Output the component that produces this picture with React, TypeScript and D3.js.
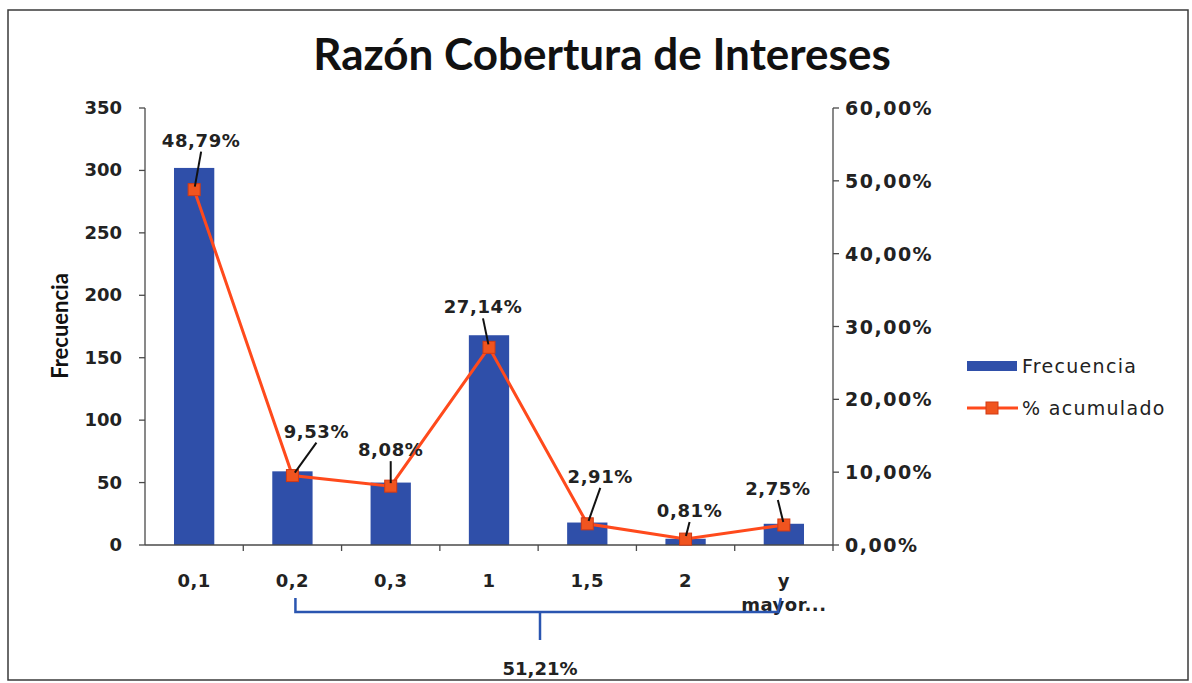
import { useMemo } from "react";
import * as d3 from "d3";

// chart data
const categories = ["0,1", "0,2", "0,3", "1", "1,5", "2", "y mayor..."];
const frecuencia = [302, 59, 50, 168, 18, 5, 17];
const acumulado = [48.79, 9.53, 8.08, 27.14, 2.91, 0.81, 2.75];
const leftTicks = [0, 50, 100, 150, 200, 250, 300, 350];
const rightTicks = [0, 10, 20, 30, 40, 50, 60];
const braceLabel = "51,21%";

// label offsets from the point (label centre)
const labelDx = [7, 24, 0, -6, 13, 4, -6];
const labelDy = [-49, -44, -36, -40, -47, -28, -36];

const W = 1192;
const H = 683;
const left = 145;
const right = 833;
const top = 108;
const bottom = 545;

const fmtPct = (v: number) => v.toFixed(2).replace(".", ",") + "%";

export default function App() {
  const x = useMemo(
    () => d3.scaleBand<string>().domain(categories).range([left, right]).paddingInner(0).paddingOuter(0),
    []
  );
  const yL = useMemo(() => d3.scaleLinear().domain([0, 350]).range([bottom, top]), []);
  const yR = useMemo(() => d3.scaleLinear().domain([0, 60]).range([bottom, top]), []);

  const cx = (c: string) => (x(c) as number) + x.bandwidth() / 2;
  const barW = x.bandwidth() * 0.41;

  const line = d3
    .line<number>()
    .x((_, i) => cx(categories[i]))
    .y((d) => yR(d));

  const tickFont = "'DejaVu Sans', Verdana, sans-serif";
  const axisColor = "#4a4a4a";
  const barColor = "#2f4fa9";
  const lineColor = "#ff4a1c";

  return (
    <svg width={W} height={H} style={{ position: "absolute", left: 0, top: 0, background: "#fff" }}>
      <rect x={8} y={10} width={1180} height={670} fill="#fff" stroke="#3a3a3a" strokeWidth={1.5} />

      <text x={602} y={70} textAnchor="middle" fontFamily="Lato, 'Open Sans', sans-serif" fontWeight={700} fontSize={44} fill="#111">
        Razón Cobertura de Intereses
      </text>

      {/* bars */}
      {frecuencia.map((v, i) => (
        <rect
          key={i}
          x={cx(categories[i]) - barW / 2}
          y={yL(v)}
          width={barW}
          height={bottom - yL(v)}
          fill={barColor}
        />
      ))}

      {/* left axis */}
      <line x1={left} x2={left} y1={top} y2={bottom} stroke={axisColor} strokeWidth={1.3} />
      {leftTicks.map((t) => (
        <g key={t}>
          <line x1={left - 6} x2={left} y1={yL(t)} y2={yL(t)} stroke={axisColor} strokeWidth={1.3} />
          <text x={122} y={yL(t) + 6} textAnchor="end" fontFamily={tickFont} fontWeight={700} fontSize={18} fill="#222">
            {t}
          </text>
        </g>
      ))}
      <text
        transform={`translate(68,${326}) rotate(-90)`}
        textAnchor="middle"
        fontFamily="Lato, 'Open Sans', sans-serif"
        fontWeight={700}
        fontSize={22}
        fill="#111"
      >
        Frecuencia
      </text>

      {/* right axis */}
      <line x1={right} x2={right} y1={top} y2={bottom} stroke={axisColor} strokeWidth={1.3} />
      {rightTicks.map((t) => (
        <g key={t}>
          <line x1={right} x2={right + 6} y1={yR(t)} y2={yR(t)} stroke={axisColor} strokeWidth={1.3} />
          <text x={845} y={yR(t) + 7} textAnchor="start" fontFamily={tickFont} fontWeight={700} fontSize={19} letterSpacing={1.5} fill="#222">
            {t.toFixed(2).replace(".", ",") + "%"}
          </text>
        </g>
      ))}

      {/* x axis */}
      <line x1={left} x2={right} y1={bottom} y2={bottom} stroke={axisColor} strokeWidth={1.3} />
      {categories.map((c, i) => (
        <line
          key={"t" + i}
          x1={(x(c) as number) + x.bandwidth()}
          x2={(x(c) as number) + x.bandwidth()}
          y1={bottom}
          y2={bottom + 6}
          stroke={axisColor}
          strokeWidth={1.3}
        />
      ))}
      {categories.map((c) => {
        const parts = c === "y mayor..." ? ["y", "mayor..."] : [c];
        return (
          <text key={c} x={cx(c)} y={587} textAnchor="middle" fontFamily={tickFont} fontWeight={700} fontSize={18} letterSpacing={0.5} fill="#222">
            {parts.map((p, j) => (
              <tspan key={j} x={cx(c)} dy={j === 0 ? 0 : 24}>
                {p}
              </tspan>
            ))}
          </text>
        );
      })}

      {/* cumulative line */}
      <path d={line(acumulado) ?? ""} fill="none" stroke={lineColor} strokeWidth={3} />
      {acumulado.map((v, i) => (
        <rect
          key={"m" + i}
          x={cx(categories[i]) - 6}
          y={yR(v) - 6}
          width={12}
          height={12}
          fill="#f0541f"
          stroke="#d23a14"
          strokeWidth={1}
        />
      ))}

      {/* data labels with leader lines */}
      {acumulado.map((v, i) => {
        const px = cx(categories[i]);
        const py = yR(v);
        const lx = px + labelDx[i];
        const ly = py + labelDy[i];
        return (
          <g key={"l" + i}>
            <line x1={lx} y1={ly + 11} x2={px + (lx - px) * 0.1} y2={py - 3} stroke="#111" strokeWidth={2} />
            <text x={lx} y={ly + 6} textAnchor="middle" fontFamily={tickFont} fontWeight={700} fontSize={18} letterSpacing={0.6} fill="#222">
              {fmtPct(v)}
            </text>
          </g>
        );
      })}

      {/* brace */}
      <path
        d={`M${cx(categories[1]) + 3},598 L${cx(categories[1]) + 3},612 L${cx(categories[6]) - 6},612 L${cx(categories[6]) - 3},598`}
        fill="none"
        stroke="#2a55b0"
        strokeWidth={2.5}
      />
      <line x1={540} x2={540} y1={612} y2={640} stroke="#2a55b0" strokeWidth={2.5} />
      <text x={540} y={675} textAnchor="middle" fontFamily={tickFont} fontWeight={700} fontSize={18} fill="#222">
        {braceLabel}
      </text>

      {/* legend */}
      <rect x={967} y={361} width={50} height={10} fill={barColor} />
      <text x={1022} y={373} fontFamily={tickFont} fontSize={19} letterSpacing={1.3} fill="#222">
        Frecuencia
      </text>
      <line x1={967} x2={1018} y1={408} y2={408} stroke={lineColor} strokeWidth={3} />
      <rect x={986} y={402} width={12} height={12} fill="#f0541f" stroke="#d23a14" strokeWidth={1} />
      <text x={1022} y={415} fontFamily={tickFont} fontSize={19} letterSpacing={1.3} fill="#222">
        % acumulado
      </text>
    </svg>
  );
}
